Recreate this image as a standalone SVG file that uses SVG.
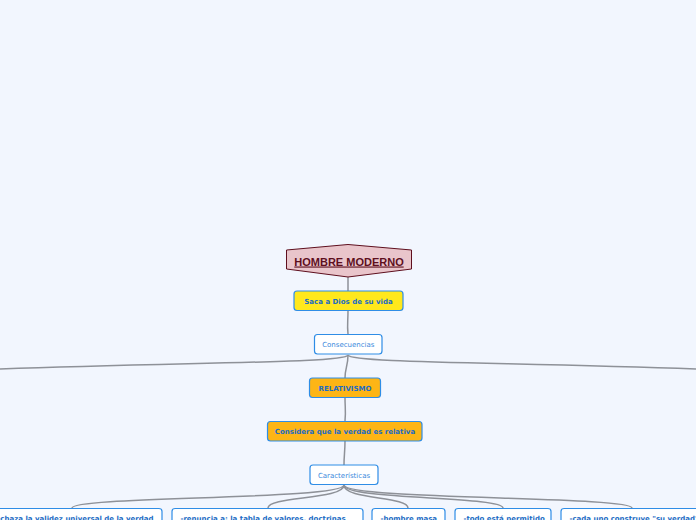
<svg xmlns="http://www.w3.org/2000/svg" width="696" height="520" viewBox="0 0 696 520">
<style>
.c{fill:none;stroke:#8e9198;stroke-width:1.5}
.b{stroke:#2f8de6;stroke-width:1.2}
.w{fill:#ffffff}
.y{fill:#ffe81c}
.o{fill:#fdb515}
.t{font-family:"DejaVu Sans",Verdana,sans-serif;font-size:7px;font-weight:bold;fill:#1c6cc4}
.n{font-family:"DejaVu Sans",Verdana,sans-serif;font-size:7px;fill:#3a89dc}
</style>
<rect width="696" height="520" fill="#f2f6fe"/>
<g id="connectors">
<path class="c" d="M348,277 L348,291"/>
<path class="c" d="M348,311 C348,322 347,324 348,334"/>
<path class="c" d="M348,355 C346,363 200,362 0,369"/>
<path class="c" d="M348,355 C350,363 500,362 696,369"/>
<path class="c" d="M348,355 C348,366 345,368 345,378"/>
<path class="c" d="M345,398 C345,408 346,411 345,421"/>
<path class="c" d="M345,441 C345,452 344,455 344,465"/>
<path class="c" d="M344,485 C344,500 72,496 72,508"/>
<path class="c" d="M344,485 C344,500 268,496 268,508"/>
<path class="c" d="M344,485 C344,500 408,496 408,508"/>
<path class="c" d="M344,485 C344,500 503,496 503,508"/>
<path class="c" d="M344,485 C344,500 632,496 632,508"/>
</g>
<g id="hombre">
<polygon points="286.5,250 348,244.5 411.5,250 411.5,269 348,277 286.5,269" fill="#e9c5cb" stroke="#5e0f1e" stroke-width="1"/>
<text x="349" y="265.5" text-anchor="middle" font-family="'Liberation Sans',Arial,sans-serif" font-size="11" font-weight="bold" fill="#5e0f1e" text-decoration="underline">HOMBRE MODERNO</text>
</g>
<g id="saca">
<rect class="b y" x="294" y="291" width="109" height="19.5" rx="3"/>
<text class="t" x="348.5" y="303.5" text-anchor="middle">Saca a Dios de su vida</text>
</g>
<g id="consecuencias">
<rect class="b w" x="314.5" y="334.5" width="67.5" height="19.5" rx="3"/>
<text class="n" x="348.3" y="347" text-anchor="middle">Consecuencias</text>
</g>
<g id="relativismo">
<rect class="b o" x="309.5" y="378" width="71" height="19.5" rx="3"/>
<text class="t" x="345" y="390.5" text-anchor="middle">RELATIVISMO</text>
</g>
<g id="considera">
<rect class="b o" x="267.5" y="421.5" width="154.5" height="19.5" rx="3"/>
<text class="t" x="345" y="434" text-anchor="middle">Considera que la verdad es relativa</text>
</g>
<g id="caracteristicas">
<rect class="b w" x="310" y="465" width="68" height="19.5" rx="3"/>
<text class="n" x="344" y="477.5" text-anchor="middle">Características</text>
</g>
<g id="rechaza">
<rect class="b w" x="-20" y="508.5" width="182" height="30" rx="3"/>
<text class="t" x="153.5" y="520.5" text-anchor="end">-rechaza la validez universal de la verdad</text>
</g>
<g id="renuncia">
<rect class="b w" x="172" y="508.5" width="191" height="30" rx="3"/>
<text class="t" x="180.5" y="520.5">-renuncia a: la tabla de valores, doctrinas</text>
</g>
<g id="masa">
<rect class="b w" x="372" y="508.5" width="73" height="30" rx="3"/>
<text class="t" x="380.5" y="520.5">-hombre masa</text>
</g>
<g id="permitido">
<rect class="b w" x="455" y="508.5" width="96" height="30" rx="3"/>
<text class="t" x="463.5" y="520.5">-todo está permitido</text>
</g>
<g id="cada">
<rect class="b w" x="561" y="508.5" width="150" height="30" rx="3"/>
<text class="t" x="569.5" y="520.5">-cada uno construye "su verdad"</text>
</g>
</svg>
